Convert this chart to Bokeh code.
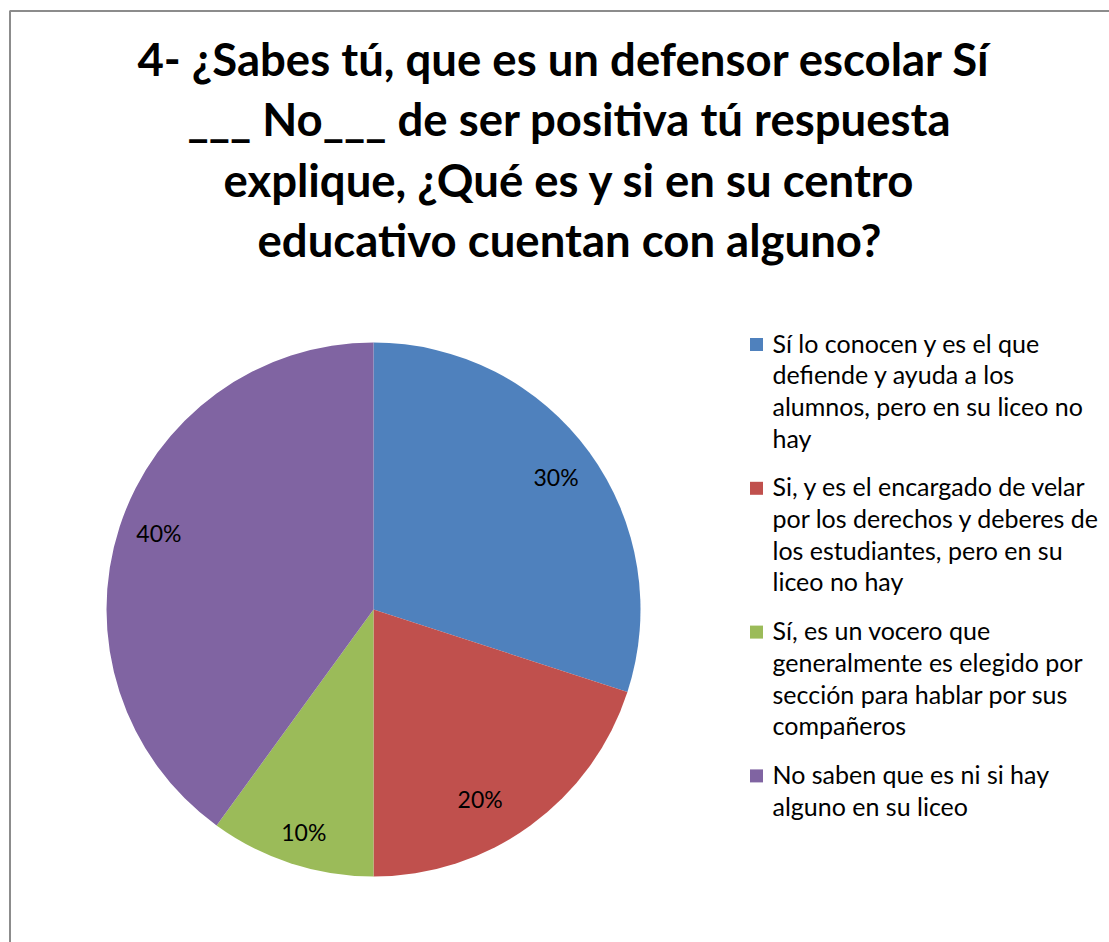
import math
from bokeh.plotting import figure
from bokeh.models import Range1d, ColumnDataSource
from bokeh.embed import file_html
from bokeh.resources import INLINE
from bokeh.core.properties import value

# ---------------- data ----------------
title_lines = [
    "4- ¿Sabes tú, que es un defensor escolar  Sí",
    "___ No___ de ser positiva tú respuesta",
    "explique, ¿Qué es y si en su centro",
    "educativo cuentan con alguno?",
]
categories = [
    "Sí lo conocen y es el que\ndefiende y ayuda a los\nalumnos, pero en su liceo no\nhay",
    "Si,  y es el encargado de velar\npor los derechos y deberes de\nlos estudiantes, pero en su\nliceo no hay",
    "Sí, es un vocero que\ngeneralmente es elegido por\nsección para hablar por sus\ncompañeros",
    "No saben que es ni si hay\nalguno  en su liceo",
]
percent = [30, 20, 10, 40]
colors = ["#4F81BD", "#C0504D", "#9BBB59", "#8064A2"]

# ---------------- layout ----------------
W, H = 1109, 942
def px(ix):  # picture x -> plot x
    return ix
def py(iy):  # picture y -> plot y
    return H - iy

FONT = "Lato"

p = figure(width=W, height=H, x_range=Range1d(0, W), y_range=Range1d(0, H),
           output_backend="svg", toolbar_location=None,
           x_axis_location=None, y_axis_location=None, min_border=0)
p.grid.visible = False
p.outline_line_color = None
p.background_fill_color = "white"
p.border_fill_color = "white"

# chart frame (only top and left edges fall inside the picture)
p.line(x=[px(9.5), px(9.5), W + 20], y=[-20, py(10.5), py(10.5)],
       line_color="#8c8c8c", line_width=2)

# title
t_y0, t_step = 57.5, 60.5
p.text(x=[px(569)] * len(title_lines),
       y=[py(t_y0 + i * t_step) for i in range(len(title_lines))],
       text=title_lines, text_align="center", text_baseline="middle",
       text_font=value(FONT), text_font_style="bold", text_font_size="45.5px",
       text_color="black")

# pie
cx, cy, R = px(373), py(609), 267
total = float(sum(percent))
starts, ends, mids = [], [], []
cum = 0
for v in percent:
    a0 = math.pi / 2 - 2 * math.pi * cum / total
    cum += v
    a1 = math.pi / 2 - 2 * math.pi * cum / total
    starts.append(a0)
    ends.append(a1)
    mids.append((a0 + a1) / 2)

src = ColumnDataSource(dict(start=starts, end=ends, color=colors))
p.wedge(x=cx, y=cy, radius=R, start_angle="start", end_angle="end",
        direction="clock", fill_color="color", line_color=None, source=src)

# label placement: along slice middle, with small per-label nudges (pixels)
lr = 0.845 * R
nudge = [(0, 0), (-26, -7), (0, -8), (0, 7)]
p.text(x=[cx + lr * math.cos(m) + n[0] for m, n in zip(mids, nudge)],
       y=[cy + lr * math.sin(m) + n[1] for m, n in zip(mids, nudge)],
       text=[f"{v}%" for v in percent], text_align="center",
       text_baseline="middle", text_font=value(FONT), text_font_size="23px",
       text_color="black")

# legend
leg_x_sq, leg_x_txt = 756, 772
line_step, entry_gap = 31.7, 17
ycur = 342
lx, ly, lt = [], [], []
sqx, sqy = [], []
for cat in categories:
    lines = cat.split("\n")
    sqx.append(px(leg_x_sq))
    sqy.append(py(ycur + 2))
    for ln in lines:
        lx.append(px(leg_x_txt))
        ly.append(py(ycur))
        lt.append(ln)
        ycur += line_step
    ycur += entry_gap

p.rect(x=sqx, y=sqy, width=13, height=13, fill_color=colors, line_color=None)
p.text(x=lx, y=ly, text=lt, text_align="left", text_baseline="middle",
       text_font=value(FONT), text_font_size="25px", text_color="black")

open("out.html", "w").write(file_html(p, INLINE))
